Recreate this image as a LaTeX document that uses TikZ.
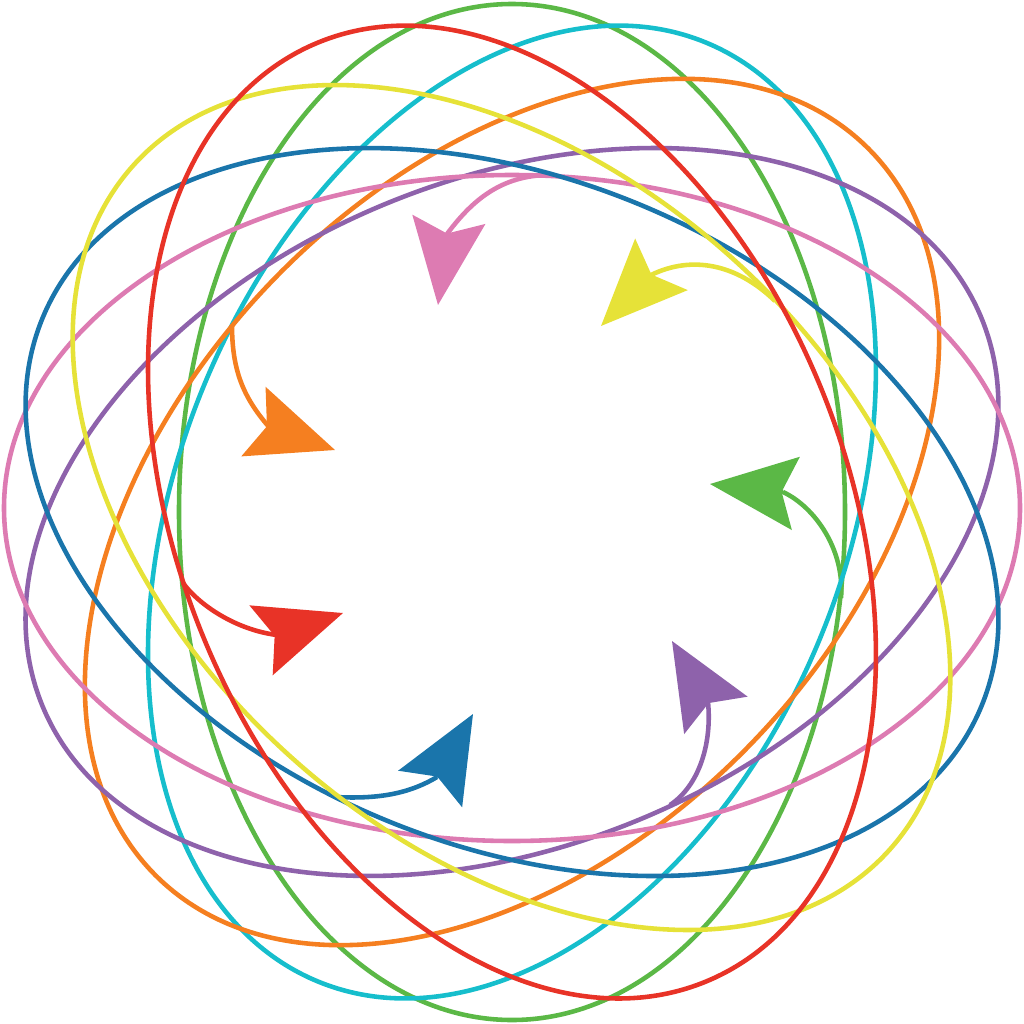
\documentclass[tikz,border=0pt]{standalone}
\usepackage{tikz}
\usetikzlibrary{arrows.meta}

\definecolor{orbitgreen}{RGB}{91,184,70}
\definecolor{orbitcyan}{RGB}{22,190,204}
\definecolor{orbitorange}{RGB}{245,127,32}
\definecolor{orbitpurple}{RGB}{142,98,171}
\definecolor{orbitpink}{RGB}{221,123,178}
\definecolor{orbitblue}{RGB}{26,117,171}
\definecolor{orbityellow}{RGB}{230,226,56}
\definecolor{orbitred}{RGB}{232,51,39}

\begin{document}
\begin{tikzpicture}[
            x=0.01cm, y=-0.01cm,
            orbit/.style = {draw, line width=1.3pt},
            pointer/.style = {draw, line width=1.3pt, -{Stealth[length=0.86cm, width=0.73cm, inset=0.14cm]}},
            ]
            \useasboundingbox (0,0) rectangle (1024,1024);
            \coordinate (O) at (512,512);
            \coordinate (Oy) at (511.5,507.5);

            \draw[orbit, orbitgreen, rotate around={90:(O)}] (O) ellipse [x radius=508, y radius=333];
            \draw[pointer, orbitgreen] (841,598) .. controls (845,550) and (815,507) .. (783,492) (783,492) -- (710,484);

            \draw[orbit, orbitcyan, rotate around={67.5:(O)}] (O) ellipse [x radius=508, y radius=333];

            \draw[orbit, orbitorange, rotate around={46:(O)}] (O) ellipse [x radius=509, y radius=333];
            \draw[pointer, orbitorange] (232,325) .. controls (232,370) and (243,397) .. (269,427) (269,427) -- (335,450);

            \draw[orbit, orbitpurple, rotate around={22.5:(O)}] (O) ellipse [x radius=508, y radius=333];
            \draw[pointer, orbitpurple] (670,805) .. controls (700,785) and (712,742) .. (708,702) (708,702) -- (672,641);

            \draw[orbit, orbitpink] (512,508) ellipse [x radius=508, y radius=333];
            \draw[pointer, orbitpink] (550,175) .. controls (500,175) and (471,202) .. (447,234) (447,234) -- (438,305);

            \draw[orbit, orbitblue, rotate around={157.5:(O)}] (O) ellipse [x radius=508, y radius=333];
            \draw[pointer, orbitblue] (335,797) .. controls (375,799) and (407,795) .. (437,777) (437,777) -- (473,714);

            \draw[orbit, orbityellow, rotate around={137.7:(Oy)}] (Oy) ellipse [x radius=510, y radius=333];
            \draw[pointer, orbityellow] (775,301) .. controls (737,264) and (692,255) .. (651,275) (651,275) -- (601,326);

            \draw[orbit, orbitred, rotate around={112.5:(O)}] (O) ellipse [x radius=508, y radius=333];
            \draw[pointer, orbitred] (183,583) .. controls (200,606) and (237,630) .. (277,635) (277,635) -- (343,613);
        \end{tikzpicture}
\end{document}
